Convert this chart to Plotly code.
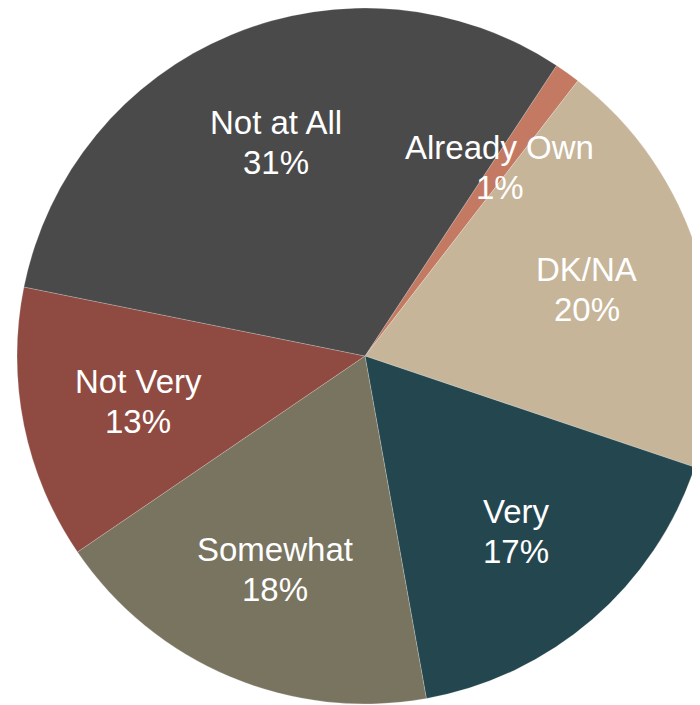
import math
import plotly.graph_objects as go

labels = ["Already Own", "DK/NA", "Very", "Somewhat", "Not Very", "Not at All"]
values = [1.2, 19.7, 17.0, 18.3, 12.7, 31.1]
colors = ["#c47a62", "#c6b599", "#24474f", "#787460", "#8f4b41", "#4a4a4a"]

W, H = 714, 696
rotation = 33.4
label_r = 0.665
line_gap = 20  # px offset of each text line from the label centre

fig = go.Figure(go.Pie(
    labels=labels,
    values=values,
    sort=False,
    direction="clockwise",
    rotation=rotation,
    marker=dict(colors=colors, line=dict(color="rgba(255,255,255,0.35)", width=0.6)),
    textinfo="none",
    hoverinfo="label+percent",
    showlegend=False,
    domain=dict(x=[0, 1], y=[0, 1]),
))

# label positions computed from the data (mid-angle of each slice)
total = sum(values)
radius_px = min(W, H) / 2
start = rotation
annotations = []
font = dict(family="Liberation Sans, Arial, sans-serif", size=33, color="white")
for lab, v in zip(labels, values):
    frac = v / total
    mid = math.radians(start + frac * 360 / 2)
    start += frac * 360
    x = 0.5 + label_r * radius_px * math.sin(mid) / W
    yc = 0.5 + label_r * radius_px * math.cos(mid) / H
    for txt, off in ((lab, line_gap), (f"{round(frac * 100)}%", -line_gap)):
        annotations.append(dict(
            x=x, y=yc + off / H, xref="paper", yref="paper",
            text=txt, showarrow=False, xanchor="center", yanchor="middle",
            font=font,
        ))

fig.update_layout(
    width=W, height=H,
    margin=dict(l=0, r=0, t=0, b=0),
    paper_bgcolor="white",
    plot_bgcolor="white",
    annotations=annotations,
)

fig.write_html("out.html")
